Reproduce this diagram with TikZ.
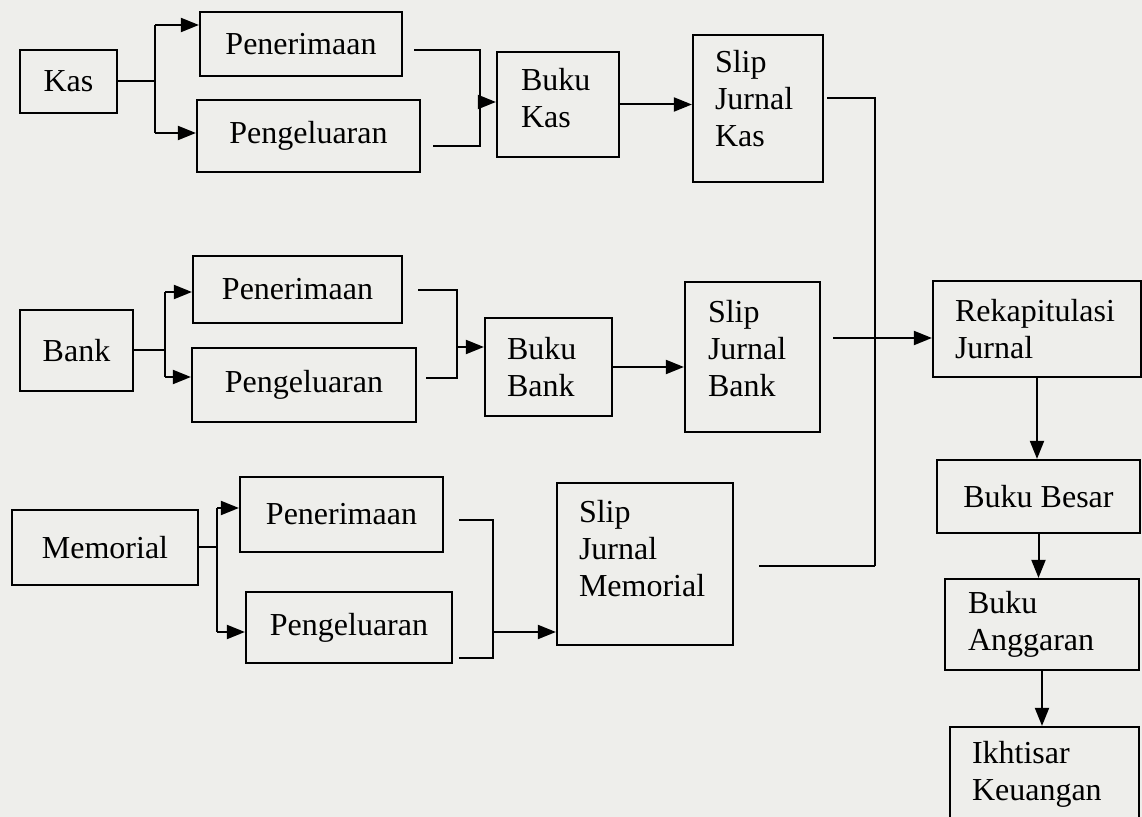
\documentclass[tikz,border=0pt]{standalone}
\usepackage{fontspec}
\setmainfont{Liberation Serif}
\usetikzlibrary{arrows.meta}
\definecolor{kertas}{RGB}{238,238,235}
\tikzset{
  kotak/.style={draw, line width=1.1pt, inner sep=0pt, font=\fontsize{16}{18.5}\selectfont},
  kiri/.style={kotak, align=left, inner ysep=0pt},
  garis/.style={line width=1pt},
  panah/.style={garis, -{Triangle[length=9pt,width=7pt]}}
}

\begin{document}
\begin{tikzpicture}[x=0.5pt,y=-0.5pt]
  \fill[kertas] (0,0) rectangle (1142,817);
  \useasboundingbox (0,0) rectangle (1142,817);

  \node[kotak, minimum width=48.5pt, minimum height=31.5pt] (kas) at (68.5,81.5) {Kas};
  \node[kotak, minimum width=101pt, minimum height=32pt] (pen1) at (301,44) {Penerimaan};
  \node[kotak, minimum width=111.5pt, minimum height=36pt] (pel1) at (308.5,136) {Pengeluaran};
  \node[kiri, inner xsep=12pt, text width=37pt, minimum height=52.5pt, text depth=25pt] (bkas) at (558,104.5) {Buku\\Kas};
  \node[kiri, inner xsep=11pt, text width=43pt, minimum height=73.5pt, text depth=47pt] (sjkas) at (758,108.5) {Slip\\Jurnal\\Kas};

  \node[kotak, minimum width=56.5pt, minimum height=40.5pt] (bank) at (76.5,350.5) {Bank};
  \node[kotak, minimum width=104.5pt, minimum height=33.5pt] (pen2) at (297.5,289.5) {Penerimaan};
  \node[kotak, minimum width=112pt, minimum height=37pt] (pel2) at (304,385) {Pengeluaran};
  \node[kiri, inner xsep=11pt, text width=41.5pt, minimum height=49pt] (bbank) at (548.5,367) {Buku\\Bank};
  \node[kiri, inner xsep=11.5pt, text width=44.5pt, minimum height=75pt, text depth=46pt] (sjbank) at (752.5,357) {Slip\\Jurnal\\Bank};

  \node[kotak, minimum width=93pt, minimum height=37.5pt] (memo) at (105,547.5) {Memorial};
  \node[kotak, minimum width=101.5pt, minimum height=37.5pt] (pen3) at (341.5,514.5) {Penerimaan};
  \node[kotak, minimum width=103pt, minimum height=35.5pt] (pel3) at (349,627.5) {Pengeluaran};
  \node[kiri, inner xsep=11pt, text width=66pt, minimum height=81pt, text depth=53pt] (sjmemo) at (645,564) {Slip\\Jurnal\\Memorial};

  \node[kiri, inner xsep=11pt, text width=82pt, minimum height=48pt] (rekap) at (1037,329) {Rekapitulasi\\Jurnal};
  \node[kotak, minimum width=101.5pt, minimum height=36.5pt] (besar) at (1038.5,496.5) {Buku Besar};
  \node[kiri, inner xsep=11.5pt, text width=74pt, minimum height=45.5pt] (angg) at (1042,624.5) {Buku\\Anggaran};
  \node[kiri, inner xsep=11pt, text width=72.5pt, minimum height=55pt, text depth=30pt] (ikht) at (1044.5,782) {Ikhtisar\\Keuangan};

  \coordinate (ka) at (155,25);   \coordinate (kb) at (155,133);
  \coordinate (kt) at (480,50);   \coordinate (kb2) at (480,146);
  \coordinate (km) at (480,102);
  \coordinate (ba) at (165,292);  \coordinate (bb) at (165,377);
  \coordinate (bt) at (457,290);  \coordinate (bb2) at (457,378);
  \coordinate (bm) at (457,347);
  \coordinate (ma) at (217,508);  \coordinate (mb) at (217,632);
  \coordinate (mt) at (493,520);  \coordinate (mb2) at (493,658);
  \coordinate (mm) at (493,632);
  \coordinate (vt) at (875,98);   \coordinate (vb) at (875,566);
  \coordinate (rk) at (833,338);  \coordinate (ms) at (759,566);

  \draw[garis] (kas.east) -- (kas.east -| ka);
  \draw[garis] (ka) -- (kb);
  \draw[panah] (ka) -- (ka -| pen1.west);
  \draw[panah] (kb) -- (kb -| pel1.west);
  \draw[garis, shorten <=5.5pt, shorten >=6pt] (pen1.east |- kt) -- (kt) -- (kb2) -- (pel1.east |- kb2);
  \draw[panah] (km) -- (km -| bkas.west);
  \draw[panah] (bkas.east) -- (bkas.east -| sjkas.west);
  \draw[garis, shorten <=1.5pt] (sjkas.east |- vt) -- (vt) -- (vb);

  \draw[garis] (bank.east) -- (bank.east -| ba);
  \draw[garis] (ba) -- (bb);
  \draw[panah] (ba) -- (ba -| pen2.west);
  \draw[panah] (bb) -- (bb -| pel2.west);
  \draw[garis, shorten <=7.5pt, shorten >=4.5pt] (pen2.east |- bt) -- (bt) -- (bb2) -- (pel2.east |- bb2);
  \draw[panah] (bm) -- (bm -| bbank.west);
  \draw[panah] (bbank.east) -- (bbank.east -| sjbank.west);
  \draw[panah] (rk) -- (rk -| rekap.west);

  \draw[garis] (memo.east) -- (memo.east -| ma);
  \draw[garis] (ma) -- (mb);
  \draw[panah] (ma) -- (ma -| pen3.west);
  \draw[panah] (mb) -- (mb -| pel3.west);
  \draw[garis, shorten <=7.5pt, shorten >=3pt] (pen3.east |- mt) -- (mt) -- (mb2) -- (pel3.east |- mb2);
  \draw[panah] (mm) -- (mm -| sjmemo.west);
  \draw[garis] (ms) -- (vb);

  \draw[panah] (rekap.south) -- (rekap.south |- besar.north);
  \draw[panah] (besar.south) -- (besar.south |- angg.north);
  \draw[panah] (angg.south) -- (angg.south |- ikht.north);
\end{tikzpicture}
\end{document}
